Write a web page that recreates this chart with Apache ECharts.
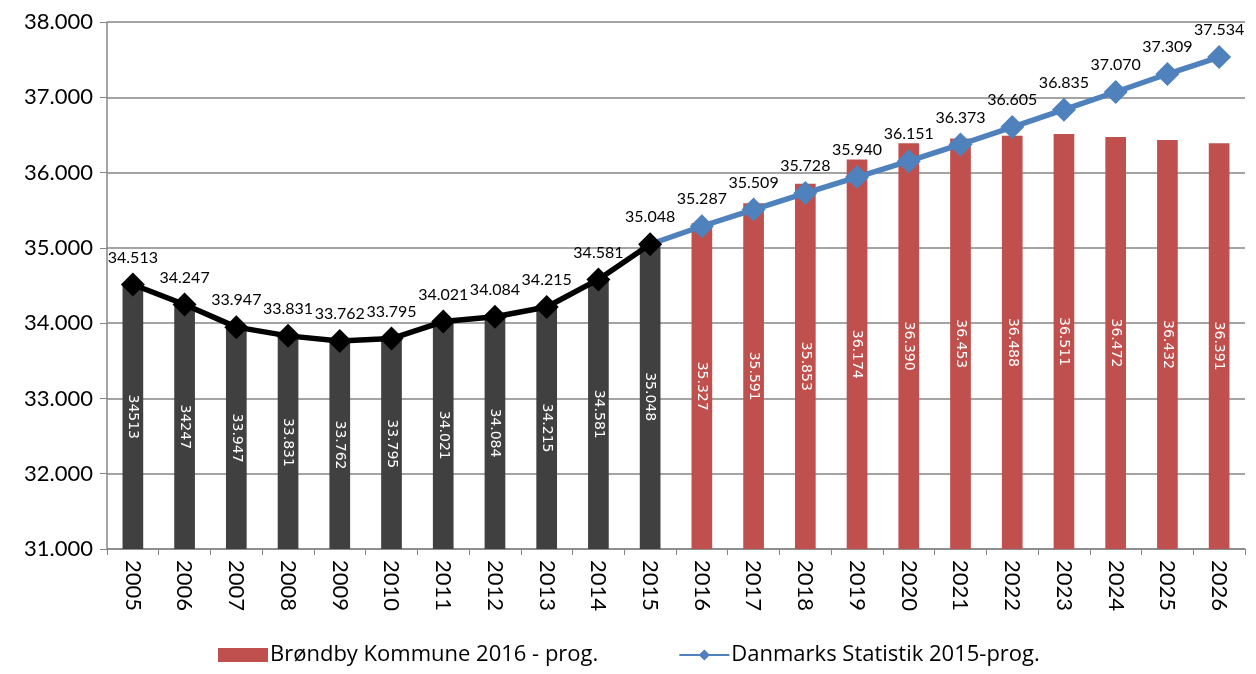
<!DOCTYPE html>
<html><head><meta charset="utf-8">
<script src="https://cdn.jsdelivr.net/npm/echarts@6/dist/echarts.min.js"></script>
<style>html,body{margin:0;padding:0;background:#fff}#c{width:1256px;height:674px}</style>
</head><body><div id="c"></div>
<script>
const years = ['2005','2006','2007','2008','2009','2010','2011','2012','2013','2014','2015','2016','2017','2018','2019','2020','2021','2022','2023','2024','2025','2026'];
const historicBars = [34513,34247,33947,33831,33762,33795,34021,34084,34215,34581,35048,null,null,null,null,null,null,null,null,null,null,null];
const historicBarLabels = ['34513','34247','33.947','33.831','33.762','33.795','34.021','34.084','34.215','34.581','35.048'];
const brondbyProg = [null,null,null,null,null,null,null,null,null,null,null,35327,35591,35853,36174,36390,36453,36488,36511,36472,36432,36391];
const historicLine = [34513,34247,33947,33831,33762,33795,34021,34084,34215,34581,35048,null,null,null,null,null,null,null,null,null,null,null];
const dstProg = [null,null,null,null,null,null,null,null,null,null,35048,35287,35509,35728,35940,36151,36373,36605,36835,37070,37309,37534];
const yTicks = {min:31000,max:38000,interval:1000};

const fmt = v => { const s = String(Math.round(v)); return s.slice(0, s.length-3) + '.' + s.slice(-3); };
const FONT = 'Lato';
const chart = echarts.init(document.getElementById('c'));
chart.setOption({
  animation:false,
  textStyle:{fontFamily:FONT},
  grid:{left:107,right:11,top:22,bottom:125,containLabel:false},
  legend:{
    data:[{name:'Brøndby Kommune 2016 - prog.',icon:'rect'},{name:'Danmarks Statistik 2015-prog.'}],
    bottom:3,left:213,itemWidth:50,itemHeight:14,itemGap:80,
    textStyle:{fontSize:22,color:'#000',fontFamily:'Open Sans',padding:[0,0,0,-3]}
  },
  xAxis:{type:'category',data:years,boundaryGap:true,
    axisLine:{lineStyle:{color:'#868686',width:1.5}},
    axisTick:{show:true,length:6,alignWithLabel:false,lineStyle:{color:'#868686'}},
    axisLabel:{rotate:-90,fontSize:22,color:'#000',margin:11,fontFamily:FONT}
  },
  yAxis:{type:'value',min:yTicks.min,max:yTicks.max,interval:yTicks.interval,
    axisLine:{show:true,lineStyle:{color:'#868686',width:1.5}},
    axisTick:{show:true,length:7,lineStyle:{color:'#868686'}},
    splitLine:{lineStyle:{color:'#868686',width:1.5}},
    axisLabel:{fontSize:22,color:'#000',margin:14,formatter:v=>fmt(v),fontFamily:FONT}
  },
  series:[
    {name:'Historic',type:'bar',data:historicBars,stack:'b',barWidth:'40%',
      itemStyle:{color:'#404040'},
      label:{show:true,position:'inside',rotate:-90,color:'#fff',fontSize:14,fontFamily:'DejaVu Sans',
        formatter:p=>historicBarLabels[p.dataIndex]}},
    {name:'Brøndby Kommune 2016 - prog.',type:'bar',data:brondbyProg,stack:'b',barWidth:'40%',
      itemStyle:{color:'#C0504D'},
      label:{show:true,position:'inside',rotate:-90,color:'#fff',fontSize:14,fontFamily:'DejaVu Sans',
        formatter:p=>fmt(p.value)}},
    {name:'Historic line',type:'line',data:historicLine,symbol:'diamond',symbolSize:24,
      lineStyle:{color:'#000',width:5.5},itemStyle:{color:'#000'},z:5,
      label:{show:true,position:'top',distance:7,color:'#000',fontSize:16,fontFamily:FONT,formatter:p=>fmt(p.value)}},
    {name:'Danmarks Statistik 2015-prog.',type:'line',
      data:dstProg.map((v,i)=> i===10 ? {value:v,symbol:'none',label:{show:false}} : v),
      symbol:'diamond',symbolSize:24,
      lineStyle:{color:'#4F81BD',width:5.5},itemStyle:{color:'#4F81BD'},z:4,
      label:{show:true,position:'top',distance:7,color:'#000',fontSize:16,fontFamily:FONT,formatter:p=>fmt(p.value)}}
  ]
});
</script></body></html>
